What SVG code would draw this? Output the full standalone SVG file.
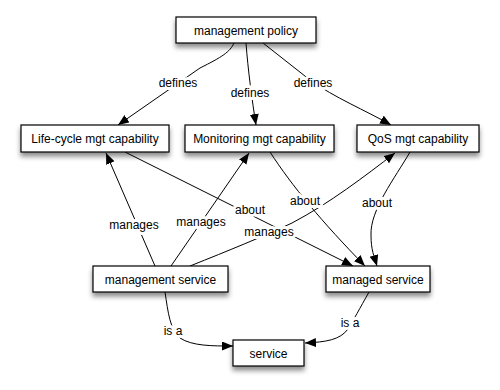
<svg xmlns="http://www.w3.org/2000/svg" width="500" height="390" viewBox="0 0 500 390">
<style>
  .box { fill: #fff; stroke: #000; stroke-width: 1.2; filter: url(#sh); }
  .t { font-family: "Liberation Sans", Arial, sans-serif; font-size: 12px; fill: #000; text-anchor: middle; }
  .lbl { font-family: "Liberation Sans", Arial, sans-serif; font-size: 12px; fill: #000; text-anchor: middle; stroke: #fff; stroke-width: 6; paint-order: stroke; stroke-linejoin: round; }
  .e { fill: none; stroke: #000; stroke-width: 1; marker-end: url(#ah); }
</style>
<defs>
  <filter id="sh" x="-20%" y="-30%" width="140%" height="180%">
    <feDropShadow dx="0" dy="4" stdDeviation="2.5" flood-color="#000" flood-opacity="0.45"/>
  </filter>
  <marker id="ah" markerUnits="userSpaceOnUse" markerWidth="12" markerHeight="10" refX="11" refY="4.5" orient="auto">
    <path d="M0,0 L11,4.5 L0,9 Z" fill="#000"/>
  </marker>
</defs>

<g id="connectors">
  <path class="e" d="M234,43 C230,52 222,57 200,68 L118,125"/>
  <path class="e" d="M246,43 C248,70 252,100 256,125"/>
  <path class="e" d="M263,43 L310,80 C335,98 365,110 391,125"/>
  <path class="e" d="M125,152 L353,266"/>
  <path class="e" d="M270,152 C292,186 322,222 365,266"/>
  <path class="e" d="M410,152 C395,178 370,210 371,235 C371,250 374,256 377,266"/>
  <path class="e" d="M155,266 L106,153"/>
  <path class="e" d="M171,266 L249,153"/>
  <path class="e" d="M190,266 C230,250 262,237 292,223 C330,203 365,176 395,153"/>
  <path class="e" d="M165,292 C168,312 170,330 180,338 C192,346 212,346 233,346"/>
  <path class="e" d="M369,292 C360,308 353,321 348,329 C340,340 326,342 305,343"/>

  <text class="lbl" x="178" y="87">defines</text>
  <text class="lbl" x="250" y="97">defines</text>
  <text class="lbl" x="313" y="87">defines</text>
  <text class="lbl" x="250" y="214">about</text>
  <text class="lbl" x="305" y="205">about</text>
  <text class="lbl" x="377" y="207">about</text>
  <text class="lbl" x="134" y="229">manages</text>
  <text class="lbl" x="201" y="226">manages</text>
  <text class="lbl" x="269" y="236">manages</text>
  <text class="lbl" x="173" y="335">is a</text>
  <text class="lbl" x="350" y="327">is a</text>
</g>

<g id="management-policy">
  <rect class="box" x="176" y="17" width="140" height="26"/>
  <text class="t" x="246" y="34.5">management policy</text>
</g>
<g id="lifecycle-capability">
  <rect class="box" x="21" y="125" width="148" height="27"/>
  <text class="t" x="95" y="142.5">Life-cycle mgt capability</text>
</g>
<g id="monitoring-capability">
  <rect class="box" x="185" y="125" width="149" height="27"/>
  <text class="t" x="259.5" y="142.5">Monitoring mgt capability</text>
</g>
<g id="qos-capability">
  <rect class="box" x="357" y="125" width="122" height="27"/>
  <text class="t" x="418" y="142.5">QoS mgt capability</text>
</g>
<g id="management-service">
  <rect class="box" x="93" y="266" width="135" height="26"/>
  <text class="t" x="160.5" y="283.5">management service</text>
</g>
<g id="managed-service">
  <rect class="box" x="326" y="266" width="104" height="26"/>
  <text class="t" x="378" y="283.5">managed service</text>
</g>
<g id="service">
  <rect class="box" x="233" y="340" width="71" height="26"/>
  <text class="t" x="268.5" y="357.5">service</text>
</g>
</svg>
